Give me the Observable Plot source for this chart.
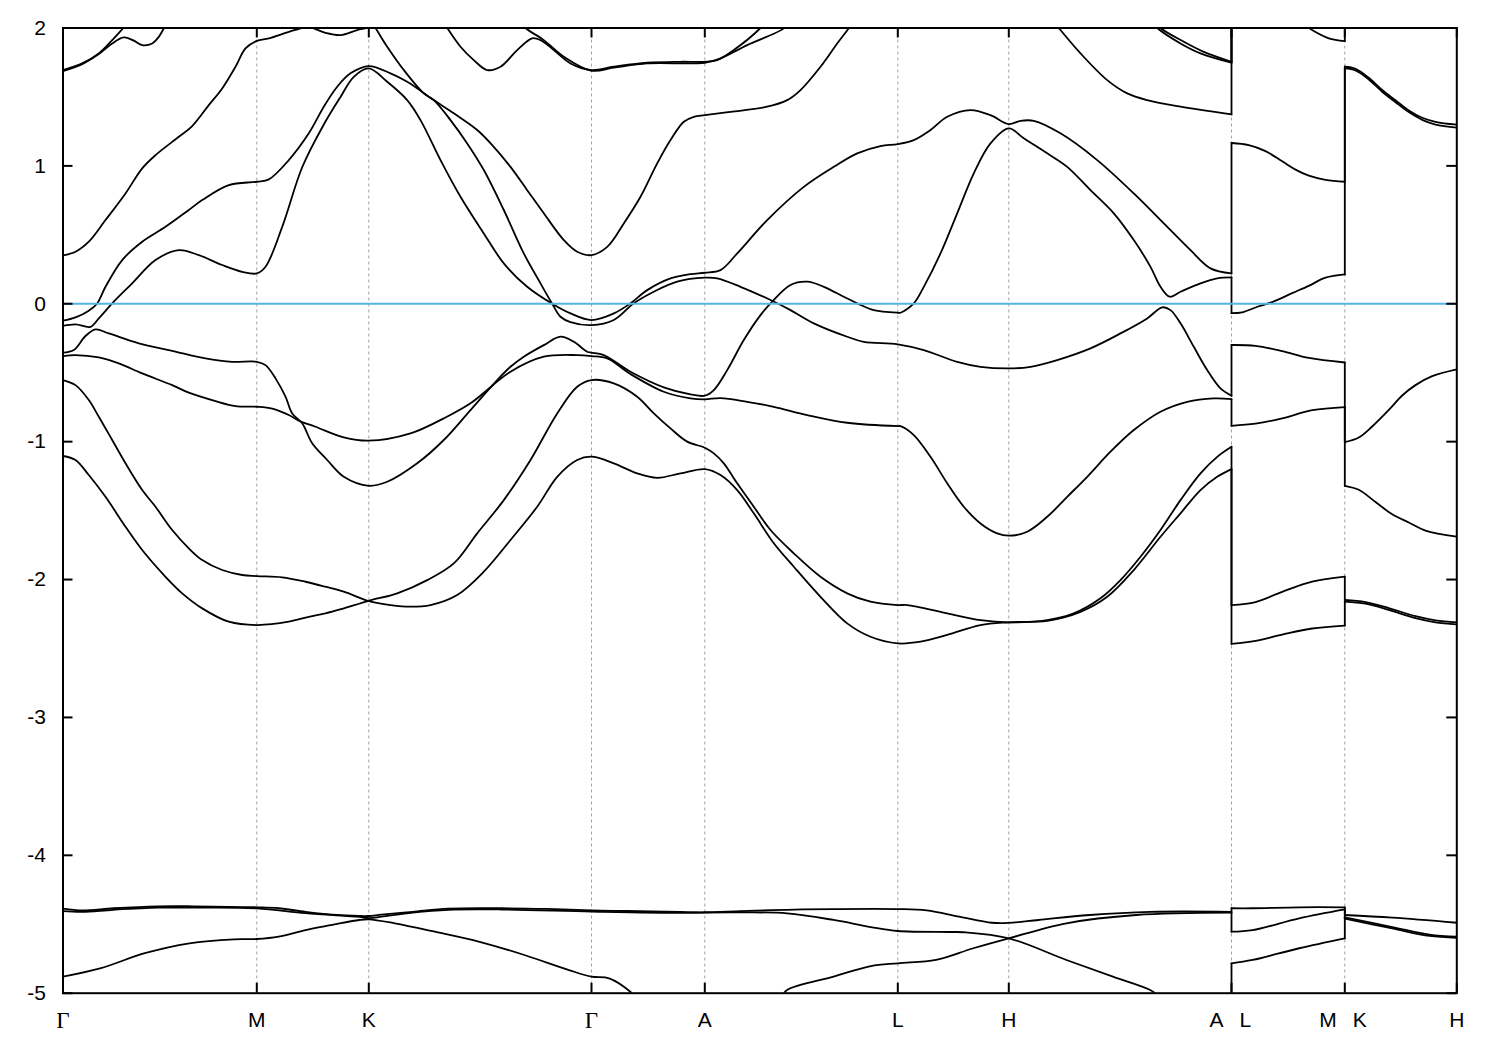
<!DOCTYPE html>
<html>
<head>
<meta charset="utf-8">
<script src="https://cdn.jsdelivr.net/npm/d3@7"></script>
<script src="https://cdn.jsdelivr.net/npm/@observablehq/plot@0.6"></script>
<style>
  html, body { margin: 0; padding: 0; background: #ffffff; }
  #chart svg { display: block; }
</style>
</head>
<body>
<div id="chart"></div>
<script>
// ---- k-path (path length units) and labels ----
const kPoints = [0, 193.8, 305.8, 528.5, 641.8, 834.8, 945.8, 1168.5, 1281.8, 1393.8];
const kNames  = ["Γ", "M", "K", "Γ", "A", "L", "H", "A L", "M K", "H"];
const yTicks  = [2, 1, 0, -1, -2, -3, -4, -5];
const fermiLevel = [0];

// ---- bands: [k, E(eV)] ----
const topA1 = [[0,1.695],[19.2,1.743],[35.8,1.816],[49.2,1.912],[60.8,2.004],[64,2.03]];
const topA2 = [[0,1.688],[19.2,1.738],[35.8,1.811],[49.2,1.888],[60.8,1.932],[70.8,1.908],[79.2,1.876],[89.2,1.888],[95.8,1.936],[100.8,1.997],[103,2.03]];
const bandC1 = [[0,0.351],[12.5,0.377],[25.8,0.45],[42.5,0.607],[62.5,0.80],[79.2,0.982],[92.5,1.078],[115.8,1.211],[129.2,1.289],[145.8,1.441],[159.2,1.562],[172.5,1.719],[182.5,1.852],[193.8,1.907],[205.8,1.925],[225.8,1.972],[239.2,2.0],[247,2.005],[262.5,1.965],[277.5,1.948],[294.2,1.985],[305.8,2.005],[312,2.03]];
const bandD = [[0,-0.123],[12.5,-0.099],[25.8,-0.05],[34,0.0],[42.5,0.123],[59.2,0.317],[79.2,0.45],[102.5,0.558],[125.8,0.68],[139.2,0.752],[165.8,0.861],[193.8,0.885],[205.8,0.902],[225.8,1.042],[245.8,1.236],[260.8,1.429],[274.2,1.574],[287.5,1.671],[305.8,1.724],[327.5,1.671],[344.2,1.61],[370.8,1.477],[390.8,1.381],[414.2,1.26],[429.2,1.151],[447.5,0.993],[464.2,0.824],[480.8,0.656],[500.8,0.462],[514.2,0.377],[528.5,0.353],[544.2,0.413],[560.8,0.583],[577.5,0.776],[594.2,1.018],[607.5,1.187],[620.8,1.32],[630.8,1.356],[641.8,1.368],[667.5,1.392],[704.2,1.429],[724.2,1.477],[737.5,1.55],[757.5,1.719],[774.2,1.888],[785.8,2.0],[789.5,2.05]];
const bandE = [[0,-0.16],[12.5,-0.149],[27.5,-0.167],[35.8,-0.106],[50.8,0.015],[69.2,0.148],[92.5,0.317],[115.8,0.389],[135.8,0.353],[159.2,0.281],[179.2,0.232],[193.8,0.22],[202.5,0.268],[219.2,0.558],[239.2,0.99],[260.8,1.30],[277.5,1.50],[290.8,1.646],[305.8,1.707],[324.2,1.61],[344.2,1.477],[357.5,1.332],[377.5,1.042],[397.5,0.776],[420.8,0.51],[440.8,0.293],[464.2,0.123],[489.2,0.0],[507.5,-0.07],[528.5,-0.118],[550.8,-0.07],[567.5,0.003],[584.2,0.099],[607.5,0.184],[627.5,0.215],[641.8,0.225],[657.5,0.244],[674.2,0.365],[704.2,0.607],[740.8,0.848],[770.8,0.993],[794.2,1.091],[817.5,1.144],[834.8,1.158],[850.8,1.187],[867.5,1.26],[884.2,1.356],[907.5,1.405],[927.5,1.368],[945.8,1.303],[957.5,1.327],[970.8,1.327],[997.5,1.236],[1034.2,1.042],[1070.8,0.80],[1100.8,0.583],[1127.5,0.389],[1147.5,0.257],[1168.5,0.22],[1168.5,1.166],[1185.8,1.151],[1202.5,1.107],[1219.2,1.033],[1232.5,0.973],[1245.8,0.929],[1262.5,0.899],[1281.8,0.885],[1281.8,1.719],[1292.5,1.704],[1305.8,1.639],[1319.2,1.55],[1332.5,1.476],[1345.8,1.402],[1359.2,1.349],[1372.5,1.32],[1393.8,1.299]];
const bandQ = [[309.5,2.03],[312.5,2.0],[324.2,1.864],[340.8,1.695],[360.8,1.526],[370.8,1.477],[387.5,1.332],[404.2,1.163],[420.8,0.97],[440.8,0.68],[460.8,0.365],[477.5,0.148],[489.2,0.0],[497.5,-0.094],[507.5,-0.133],[528.5,-0.155],[550.8,-0.118],[570.8,0.003],[590.8,0.087],[614.2,0.16],[641.8,0.189],[654.2,0.184],[677.5,0.123],[707.5,0.027],[727.5,-0.046],[750.8,-0.142],[784.2,-0.239],[800.8,-0.276],[834.8,-0.294],[860.8,-0.336],[894.2,-0.421],[917.5,-0.457],[945.8,-0.469],[967.5,-0.457],[994.2,-0.408],[1027.5,-0.323],[1057.5,-0.215],[1084.2,-0.106],[1099.2,-0.026],[1107.5,-0.046],[1117.5,-0.142],[1130.8,-0.312],[1144.2,-0.481],[1157.5,-0.614],[1168.5,-0.667],[1168.5,-0.299],[1192.5,-0.305],[1219.2,-0.343],[1245.8,-0.393],[1281.8,-0.426],[1281.8,-1.003],[1295.8,-0.97],[1309.2,-0.89],[1325.8,-0.77],[1339.2,-0.665],[1352.5,-0.59],[1369.2,-0.525],[1393.8,-0.476]];
const bandG = [[0,-0.355],[10.8,-0.336],[22.5,-0.234],[32.5,-0.186],[45.8,-0.215],[75.8,-0.287],[109.2,-0.341],[142.5,-0.396],[169.2,-0.421],[193.8,-0.421],[202.5,-0.445],[212.5,-0.541],[222.5,-0.674],[229.2,-0.795],[239.2,-0.867],[249.2,-1.012],[264.2,-1.133],[280.8,-1.255],[305.8,-1.32],[324.2,-1.291],[354.2,-1.157],[380.8,-0.988],[407.5,-0.771],[434.2,-0.553],[447.5,-0.457],[460.8,-0.384],[480.8,-0.30],[497.5,-0.239],[510.8,-0.276],[524.2,-0.348],[528.5,-0.355],[540.8,-0.372],[567.5,-0.493],[600.8,-0.606],[627.5,-0.657],[641.8,-0.667],[650.8,-0.626],[664.2,-0.481],[680.8,-0.263],[697.5,-0.082],[709.2,0.015],[727.5,0.136],[744.2,0.16],[760.8,0.123],[780.8,0.051],[794.2,0.003],[810.8,-0.046],[834.8,-0.065],[837.5,-0.065],[850.8,0.003],[860.8,0.123],[877.5,0.365],[894.2,0.656],[910.8,0.946],[927.5,1.163],[945.8,1.272],[960.8,1.20],[984.2,1.091],[1004.2,0.993],[1027.5,0.824],[1050.8,0.656],[1070.8,0.462],[1087.5,0.268],[1097.5,0.123],[1106.8,0.051],[1117.5,0.087],[1137.5,0.148],[1154.2,0.184],[1168.5,0.191],[1168.5,-0.068],[1179.2,-0.062],[1195.8,-0.018],[1209.2,0.012],[1229.2,0.077],[1245.8,0.13],[1262.5,0.189],[1281.8,0.213],[1281.8,1.707],[1292.5,1.692],[1305.8,1.627],[1319.2,1.538],[1332.5,1.462],[1345.8,1.39],[1359.2,1.334],[1372.5,1.30],[1393.8,1.278]];
const bandF = [[0,-0.379],[12.5,-0.372],[35.8,-0.389],[55.8,-0.432],[79.2,-0.505],[109.2,-0.59],[125.8,-0.645],[152.5,-0.706],[172.5,-0.742],[193.8,-0.747],[209.2,-0.761],[225.8,-0.807],[235.8,-0.848],[252.5,-0.892],[280.8,-0.969],[305.8,-0.993],[347.5,-0.94],[380.8,-0.831],[407.5,-0.722],[447.5,-0.493],[480.8,-0.384],[514.2,-0.372],[528.5,-0.379],[544.2,-0.396],[567.5,-0.51],[600.8,-0.638],[627.5,-0.686],[641.8,-0.693],[657.5,-0.684],[684.2,-0.711],[710.8,-0.747],[744.2,-0.807],[784.2,-0.863],[834.8,-0.887],[837.5,-0.887],[850.8,-0.952],[867.5,-1.11],[884.2,-1.302],[900.8,-1.472],[917.5,-1.593],[934.2,-1.665],[945.8,-1.682],[964.2,-1.653],[984.2,-1.545],[1004.2,-1.40],[1024.2,-1.255],[1047.5,-1.073],[1070.8,-0.916],[1097.5,-0.783],[1124.2,-0.711],[1150.8,-0.686],[1168.5,-0.691],[1168.5,-0.885],[1192.5,-0.870],[1219.2,-0.831],[1249.2,-0.772],[1281.8,-0.749],[1281.8,-1.32],[1295.8,-1.349],[1312.5,-1.438],[1329.2,-1.527],[1345.8,-1.586],[1362.5,-1.645],[1393.8,-1.689]];
const bandL1 = [[0,-0.553],[12.5,-0.59],[25.8,-0.698],[35.8,-0.819],[49.2,-0.988],[62.5,-1.157],[79.2,-1.351],[92.5,-1.472],[109.2,-1.641],[125.8,-1.774],[139.2,-1.859],[159.2,-1.931],[179.2,-1.967],[193.8,-1.975],[219.2,-1.984],[242.5,-2.016],[262.5,-2.052],[280.8,-2.088],[305.8,-2.156],[327.5,-2.185],[347.5,-2.197],[367.5,-2.185],[394.2,-2.112],[420.8,-1.943],[447.5,-1.713],[474.2,-1.472],[494.2,-1.255],[514.2,-1.133],[528.5,-1.109],[550.8,-1.157],[574.2,-1.23],[594.2,-1.262],[617.5,-1.23],[641.8,-1.199],[657.5,-1.242],[674.2,-1.351],[690.8,-1.52],[710.8,-1.737],[730.8,-1.907],[757.5,-2.125],[784.2,-2.318],[807.5,-2.415],[834.8,-2.463],[857.5,-2.451],[884.2,-2.402],[917.5,-2.33],[945.8,-2.31],[984.2,-2.299],[1017.5,-2.234],[1044.2,-2.125],[1070.8,-1.931],[1097.5,-1.69],[1117.5,-1.52],[1137.5,-1.351],[1154.2,-1.255],[1168.5,-1.199],[1168.5,-2.467],[1192.5,-2.444],[1219.2,-2.399],[1249.2,-2.355],[1281.8,-2.334],[1281.8,-2.16],[1302.5,-2.175],[1325.8,-2.22],[1352.5,-2.28],[1372.5,-2.31],[1393.8,-2.325]];
const bandL2 = [[0,-1.104],[12.5,-1.133],[25.8,-1.242],[42.5,-1.40],[62.5,-1.617],[79.2,-1.786],[102.5,-1.98],[119.2,-2.10],[139.2,-2.209],[165.8,-2.306],[193.8,-2.33],[225.8,-2.306],[245.8,-2.27],[262.5,-2.245],[278,-2.215],[305.8,-2.154],[334.2,-2.10],[364.2,-2.004],[390.8,-1.883],[414.2,-1.665],[440.8,-1.424],[467.5,-1.133],[494.2,-0.795],[514.2,-0.602],[528.5,-0.553],[550.8,-0.577],[574.2,-0.674],[590.8,-0.795],[607.5,-0.904],[624.2,-1.0],[641.8,-1.044],[650.8,-1.085],[660.8,-1.157],[674.2,-1.302],[690.8,-1.472],[707.5,-1.641],[730.8,-1.81],[757.5,-1.98],[784.2,-2.10],[807.5,-2.161],[834.8,-2.185],[844.2,-2.185],[884.2,-2.245],[917.5,-2.294],[945.8,-2.31],[984.2,-2.294],[1010.8,-2.245],[1037.5,-2.136],[1057.5,-2.004],[1077.5,-1.835],[1097.5,-1.641],[1117.5,-1.424],[1137.5,-1.23],[1154.2,-1.11],[1168.5,-1.037],[1168.5,-2.186],[1192.5,-2.163],[1219.2,-2.089],[1249.2,-2.015],[1281.8,-1.979],[1281.8,-2.148],[1302.5,-2.163],[1325.8,-2.207],[1352.5,-2.266],[1372.5,-2.296],[1393.8,-2.311]];
const topK1 = [[381.5,2.03],[384.2,2.0],[397.5,1.864],[410.8,1.767],[424.2,1.695],[437.5,1.719],[454.2,1.84],[469.2,1.925],[477.5,1.912],[490.8,1.84],[507.5,1.743],[528.5,1.695],[550.8,1.719],[584.2,1.748],[617.5,1.755],[641.8,1.755],[654.2,1.767],[670.8,1.84],[697.5,2.0],[701,2.03]];
const topK2 = [[459.5,2.03],[462.5,2.0],[480.8,1.912],[500.8,1.791],[528.5,1.69],[550.8,1.712],[584.2,1.743],[641.8,1.748],[657.5,1.78],[684.2,1.876],[720.8,1.997],[724,2.03]];
const topHA1 = [[1090.5,2.03],[1094.2,2.0],[1117.5,1.888],[1137.5,1.816],[1168.5,1.748],[1168.5,2.05]];
const topHA2 = [[1094.5,2.03],[1097.5,2.0],[1120.8,1.90],[1140.8,1.827],[1168.5,1.755],[1168.5,2.05]];
const topHA3 = [[992.5,2.03],[995.8,2.0],[1017.5,1.816],[1044.2,1.622],[1064.2,1.526],[1084.2,1.477],[1117.5,1.429],[1168.5,1.373],[1168.5,2.05]];
const topLM = [[1240,2.03],[1249.2,1.985],[1265.8,1.925],[1281.8,1.905],[1281.8,2.05]];
const bandB1 = [[0,-4.88],[37.1,-4.82],[81.8,-4.71],[126.4,-4.638],[171.1,-4.609],[193.8,-4.607],[215.7,-4.59],[242.5,-4.542],[269.3,-4.505],[296.1,-4.469],[305.8,-4.464],[331.8,-4.493],[372,-4.554],[416.6,-4.627],[461.3,-4.723],[505.9,-4.832],[528.5,-4.88],[546.1,-4.892],[568.4,-4.996],[575,-5.05]];
const bandT3 = [[718.5,-5.03],[724.1,-4.977],[770.6,-4.88],[807.9,-4.803],[834.8,-4.783],[873,-4.759],[910.3,-4.674],[945.8,-4.602],[1003.4,-4.493],[1073.2,-4.433],[1168.5,-4.416],[1168.5,-4.554],[1189.6,-4.542],[1236.2,-4.457],[1281.8,-4.392],[1281.8,-4.46],[1329.3,-4.53],[1366.5,-4.585],[1393.8,-4.598]];
const bandT4 = [[1168.5,-5.05],[1168.5,-4.783],[1189.6,-4.759],[1236.2,-4.674],[1281.8,-4.602],[1281.8,-4.45],[1329.3,-4.52],[1366.5,-4.575],[1393.8,-4.59]];
const bandTD1 = [[0,-4.387],[19.3,-4.40],[50.5,-4.384],[95.2,-4.37],[130.9,-4.37],[193.8,-4.377],[215.7,-4.384],[242.5,-4.41],[269.3,-4.43],[296.1,-4.44],[305.8,-4.44],[318.4,-4.43],[349.6,-4.41],[385.4,-4.387],[438.9,-4.384],[483.5,-4.389],[528.5,-4.40],[563.9,-4.404],[617.5,-4.411],[641.8,-4.413],[677.5,-4.405],[724.1,-4.395],[770.6,-4.39],[834.8,-4.39],[863.7,-4.40],[896.3,-4.445],[928.9,-4.489],[945.8,-4.49],[975.5,-4.469],[1026.7,-4.433],[1087.2,-4.41],[1168.5,-4.41],[1168.5,-4.384],[1189.6,-4.384],[1236.2,-4.377],[1281.8,-4.377],[1281.8,-4.433],[1329.3,-4.452],[1393.8,-4.489]];
const bandTD2 = [[0,-4.405],[19.3,-4.41],[50.5,-4.395],[95.2,-4.38],[130.9,-4.38],[193.8,-4.385],[242.5,-4.42],[296.1,-4.447],[305.8,-4.455],[318.4,-4.445],[349.6,-4.415],[385.4,-4.395],[438.9,-4.393],[528.5,-4.408],[617.5,-4.418],[641.8,-4.415],[677.5,-4.414],[724.1,-4.421],[770.6,-4.469],[807.9,-4.52],[834.8,-4.549],[887,-4.556],[901,-4.558],[945.8,-4.602],[1003.4,-4.759],[1049.9,-4.88],[1087.2,-4.977],[1097.5,-5.03]];

const bandList = [topA1, topA2, bandC1, bandD, bandE, bandQ, bandG, bandF, bandL1, bandL2,
  topK1, topK2, topHA1, topHA2, topHA3, topLM, bandB1, bandT3, bandT4, bandTD1, bandTD2];

// split each band into smooth pieces and straight vertical jumps (A|L, M|K)
const rows = [];
let pieceId = 0;
function flush(arr) {
  if (arr.length > 1) { pieceId++; for (const [k, e] of arr) rows.push({k, e, piece: pieceId}); }
}
for (const pts of bandList) {
  let cur = [];
  for (let i = 0; i < pts.length; i++) {
    const p = pts[i];
    if (i > 0 && p[0] === pts[i - 1][0]) {
      flush(cur);
      flush([pts[i - 1], p]);
      cur = [p];
    } else cur.push(p);
  }
  flush(cur);
}

// ---- layout ----
const W = 1500, H = 1050;
const mTop = 27.5, mRight = 43.7, mBottom = 57.3, mLeft = 62.5;
const innerW = W - mLeft - mRight, innerH = H - mTop - mBottom;
const tickLen = 10;

// label helpers derived from kNames
const centered = [], gammas = [], leftParts = [], rightParts = [];
kNames.forEach((n, i) => {
  const k = kPoints[i];
  if (n === "Γ") gammas.push({k, t: n});
  else if (n.includes(" ")) { const [a, b] = n.split(" "); leftParts.push({k, t: a}); rightParts.push({k, t: b}); }
  else centered.push({k, t: n});
});
const interior = kPoints.slice(1, -1);
const lab = {frameAnchor: "bottom", lineAnchor: "middle", dy: 27, fontSize: 21, fill: "black"};

const chart = Plot.plot({
  width: W, height: H,
  marginTop: mTop, marginRight: mRight, marginBottom: mBottom, marginLeft: mLeft,
  x: {domain: [kPoints[0], kPoints[kPoints.length - 1]], axis: null},
  y: {domain: [-5, 2], axis: null},
  style: {fontFamily: "'Liberation Sans', Arial, sans-serif", fontSize: "21px", background: "#ffffff", color: "black"},
  marks: [
    Plot.ruleX(interior, {x: d => d, stroke: "#a0a0a0", strokeWidth: 1, strokeDasharray: "3,3"}),
    Plot.line(rows, {x: "k", y: "e", z: "piece", stroke: "black", strokeWidth: 1.8, curve: "catmull-rom", clip: true}),
    Plot.ruleY(fermiLevel, {y: d => d, stroke: "#56B4E9", strokeWidth: 2}),
    Plot.frame({stroke: "black", strokeWidth: 2}),
    // inward ticks
    Plot.ruleY(yTicks, {y: d => d, insetRight: innerW - tickLen, stroke: "black", strokeWidth: 2}),
    Plot.ruleY(yTicks, {y: d => d, insetLeft: innerW - tickLen, stroke: "black", strokeWidth: 2}),
    Plot.ruleX(kPoints, {x: d => d, insetTop: innerH - tickLen, stroke: "black", strokeWidth: 2}),
    Plot.ruleX(kPoints, {x: d => d, insetBottom: innerH - tickLen, stroke: "black", strokeWidth: 2}),
    // tick labels
    Plot.text(yTicks, {y: d => d, text: d => String(d), frameAnchor: "left", textAnchor: "end", dx: -17, fontSize: 21, fill: "black"}),
    Plot.text(centered, {x: "k", text: "t", ...lab}),
    Plot.text(leftParts, {x: "k", text: "t", ...lab, dx: -8, textAnchor: "end"}),
    Plot.text(rightParts, {x: "k", text: "t", ...lab, dx: 8, textAnchor: "start"}),
    Plot.text(gammas, {x: "k", text: "t", ...lab, fontSize: 23, fontFamily: "'Liberation Serif', 'Times New Roman', serif"})
  ]
});
document.getElementById("chart").appendChild(chart);
</script>
</body>
</html>
